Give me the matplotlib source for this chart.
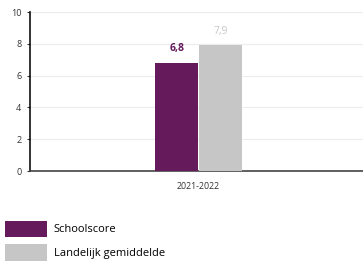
import matplotlib.pyplot as plt
from matplotlib.patches import Patch

plt.rcParams['font.family'] = ['Open Sans', 'DejaVu Sans']

categories = ['2021-2022']
series = ['Schoolscore', 'Landelijk gemiddelde']
values = [6.8, 7.9]
labels = ['6,8', '7,9']
colors = ['#641a5b', '#c6c6c6']
label_colors = ['#641a5b', '#c6c6c6']

fig = plt.figure(figsize=(3.63, 2.62), dpi=100)
ax = fig.add_axes([0.082, 0.347, 0.93, 0.607])

w = 0.258
offsets = [-w / 2, w / 2]
for i in range(len(series)):
    ax.bar(offsets[i], values[i], width=w - 0.005, color=colors[i], zorder=3)
    ax.text(offsets[i], values[i] + 0.55, labels[i], ha='center', va='bottom',
            fontsize=7.5, color=label_colors[i], fontweight='bold' if i == 0 else 'normal')

ax.set_xlim(-1, 1)
ax.set_ylim(0, 10)
ax.set_yticks([0, 2, 4, 6, 8, 10])
ax.set_xticks([0])
ax.set_xticklabels(categories)
ax.tick_params(axis='y', labelsize=6.5, length=2, width=0.8, colors='#333333', pad=4)
ax.tick_params(axis='x', labelsize=6.3, length=0, colors='#333333', pad=8)
ax.grid(axis='y', color='#ececec', linewidth=0.8, zorder=0)
for s in ['top', 'right']:
    ax.spines[s].set_visible(False)
ax.spines['left'].set_color('#111111')
ax.spines['left'].set_linewidth(1.2)
ax.spines['bottom'].set_color('#444444')
ax.spines['bottom'].set_linewidth(1.2)

handles = [Patch(facecolor=c, edgecolor='none') for c in colors]
fig.legend(handles, series, loc='lower left', bbox_to_anchor=(-0.004, -0.02),
           frameon=False, fontsize=8, handlelength=3.75, handleheight=1.85,
           handletextpad=0.6, labelspacing=0.7, borderaxespad=0.2)

fig.savefig('out.png', dpi=100)
